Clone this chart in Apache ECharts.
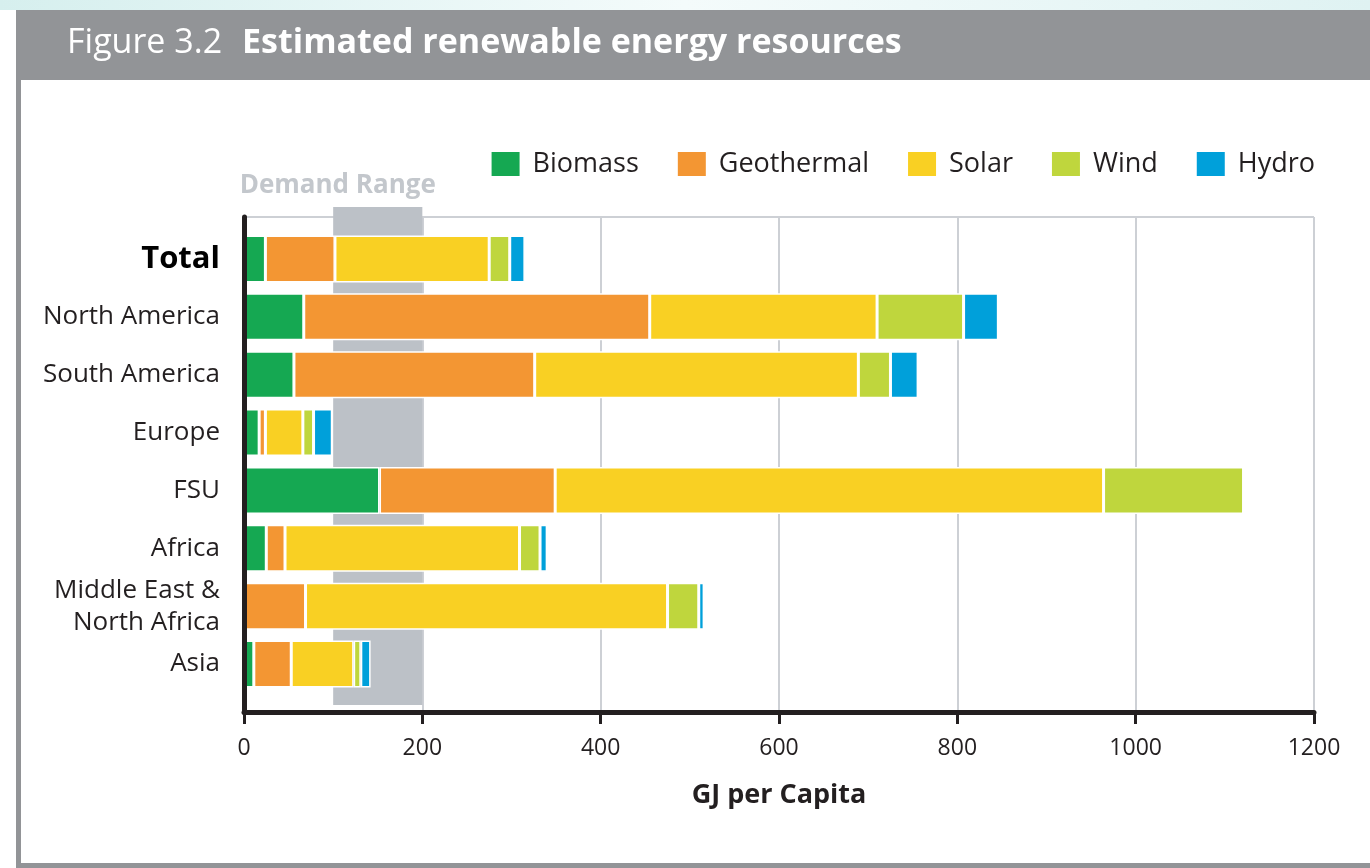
<!DOCTYPE html>
<html>
<head>
<meta charset="utf-8">
<script src="https://cdn.jsdelivr.net/npm/echarts@6/dist/echarts.min.js"></script>
<style>
  html, body { margin: 0; padding: 0; background: #fff; }
  #chart { width: 1370px; height: 868px; }
</style>
</head>
<body>
<div id="chart"></div>
<script>
// regions, top to bottom
const regions = ['Total', 'North America', 'South America', 'Europe', 'FSU', 'Africa', 'Middle East &\nNorth Africa', 'Asia'];

// GJ per capita
const biomass    = [24, 67, 56, 17, 152, 25, 0, 11];
const geothermal = [78, 388, 270, 7, 197, 21, 69, 42];
const solar      = [173, 255, 363, 42, 615, 263, 406, 70];
const wind       = [23, 97, 36, 12, 157, 23, 35, 8];
const hydro      = [17, 39, 31, 21, 0, 8, 6, 11];

const demandRange = [100, 200];
const gridValues = [200, 400, 600, 800, 1000, 1200];

const font = '"Open Sans", "Noto Sans", sans-serif';
const ink = '#231f20';

var chart = echarts.init(document.getElementById('chart'));

function barSeries(name, data, color) {
    return {
        name: name,
        type: 'bar',
        stack: 'total',
        xAxisIndex: 1,
        yAxisIndex: 1,
        barWidth: 47,
        z: 3,
        data: data,
        itemStyle: { color: color, borderColor: '#fff', borderWidth: 1.5 }
    };
}

var option = {
    backgroundColor: '#fff',
    animation: false,
    textStyle: { fontFamily: font },
    graphic: [
        // faint tint at the very top
        { type: 'rect', shape: { x: 0, y: 0, width: 1370, height: 10 },
          style: { fill: new echarts.graphic.LinearGradient(0, 0, 1, 0, [
              { offset: 0, color: '#d6efee' }, { offset: 0.5, color: '#f4fbfb' }, { offset: 1, color: '#dff2f2' }]) } },
        // header band
        { type: 'rect', shape: { x: 16, y: 10, width: 1354, height: 70 }, style: { fill: '#929497' } },
        // frame left and bottom
        { type: 'rect', shape: { x: 16, y: 10, width: 5, height: 858 }, style: { fill: '#929497' } },
        { type: 'rect', shape: { x: 16, y: 863, width: 1354, height: 5 }, style: { fill: '#929497' } },
        {
            type: 'text', left: 67, top: 26,
            style: {
                text: '{a|Figure 3.2}{b|Estimated renewable energy resources}',
                fill: '#fff',
                rich: {
                    a: { fontFamily: font, fontSize: 34, fill: '#fff' },
                    b: { fontFamily: font, fontSize: 34, fontWeight: 'bold', fill: '#fff', padding: [0, 0, 0, 20] }
                }
            }
        }
    ],
    legend: {
        right: 50,
        top: 145,
        icon: 'rect',
        itemWidth: 30,
        itemHeight: 26,
        itemGap: 37,
        data: ['Biomass', 'Geothermal', 'Solar', 'Wind', 'Hydro'],
        textStyle: { fontFamily: font, fontSize: 27, color: ink, padding: [0, 0, 0, 7] }
    },
    grid: [
        // frame grid: axes and grid lines
        { left: 244, right: 56, top: 217, height: 495 },
        // bars
        { left: 244, right: 56, top: 230, height: 463 },
        // demand band
        { left: 244, right: 56, top: 207, height: 498 }
    ],
    xAxis: [
        {
            type: 'value', gridIndex: 0, min: 0, max: 1200, interval: 200, position: 'bottom',
            z: 5,
            name: 'GJ per Capita', nameLocation: 'middle', nameGap: 70,
            nameTextStyle: { fontFamily: font, fontSize: 27, fontWeight: 'bold', color: ink },
            axisLine: { show: true, onZero: false, lineStyle: { color: ink, width: 5 } },
            axisTick: { show: true, length: 12, lineStyle: { color: ink, width: 3 } },
            axisLabel: { fontFamily: font, fontSize: 23, color: ink, margin: 25,
                formatter: function (v) { return String(v); } },
            splitLine: { show: false }
        },
        { type: 'value', gridIndex: 1, min: 0, max: 1200, show: false },
        { type: 'value', gridIndex: 2, min: 0, max: 1200, show: false }
    ],
    yAxis: [
        {
            type: 'value', gridIndex: 0, min: 0, max: 1, interval: 1,
            z: 5,
            axisLine: { show: true, onZero: false, lineStyle: { color: ink, width: 5 } },
            axisTick: { show: false },
            axisLabel: { show: false },
            splitLine: { show: false }
        },
        {
            type: 'category', gridIndex: 1, data: regions, inverse: true,
            axisLine: { show: false },
            axisTick: { show: false },
            axisLabel: {
                margin: 24,
                fontFamily: font, fontSize: 26, color: ink, lineHeight: 32,
                formatter: function (v) { return v === 'Total' ? '{t|Total}' : v; },
                rich: { t: { fontFamily: font, fontSize: 31, fontWeight: 'bold', color: '#000' } }
            }
        },
        { type: 'value', gridIndex: 2, min: 0, max: 1, show: false }
    ],
    series: [
        {
            // grid lines, kept under the band and the bars
            type: 'line',
            xAxisIndex: 0,
            yAxisIndex: 0,
            data: [],
            showSymbol: false,
            z: 0,
            silent: true,
            markLine: {
                silent: true,
                z: 0,
                symbol: 'none',
                label: { show: false },
                lineStyle: { color: '#cdd0d5', width: 2, type: 'solid' },
                data: gridValues.map(function (v) { return { xAxis: v }; })
                    .concat([{ yAxis: 1 }])
            }
        },
        {
            name: 'Demand Range',
            type: 'line',
            xAxisIndex: 2,
            yAxisIndex: 2,
            data: [],
            showSymbol: false,
            z: 1,
            silent: true,
            markArea: {
                silent: true,
                z: 1,
                itemStyle: { color: '#bcc1c7' },
                label: {
                    show: true, position: 'top', distance: 8, offset: [-40, 0],
                    fontFamily: font, fontSize: 26, fontWeight: 'bold', color: '#c3c7cc'
                },
                data: [[
                    { name: 'Demand Range', xAxis: demandRange[0], yAxis: 'max' },
                    { xAxis: demandRange[1], yAxis: 'min' }
                ]]
            }
        },
        barSeries('Biomass', biomass, '#15a852'),
        barSeries('Geothermal', geothermal, '#f39633'),
        barSeries('Solar', solar, '#f9d023'),
        barSeries('Wind', wind, '#bfd63d'),
        barSeries('Hydro', hydro, '#00a0da')
    ]
};

chart.setOption(option);
</script>
</body>
</html>
